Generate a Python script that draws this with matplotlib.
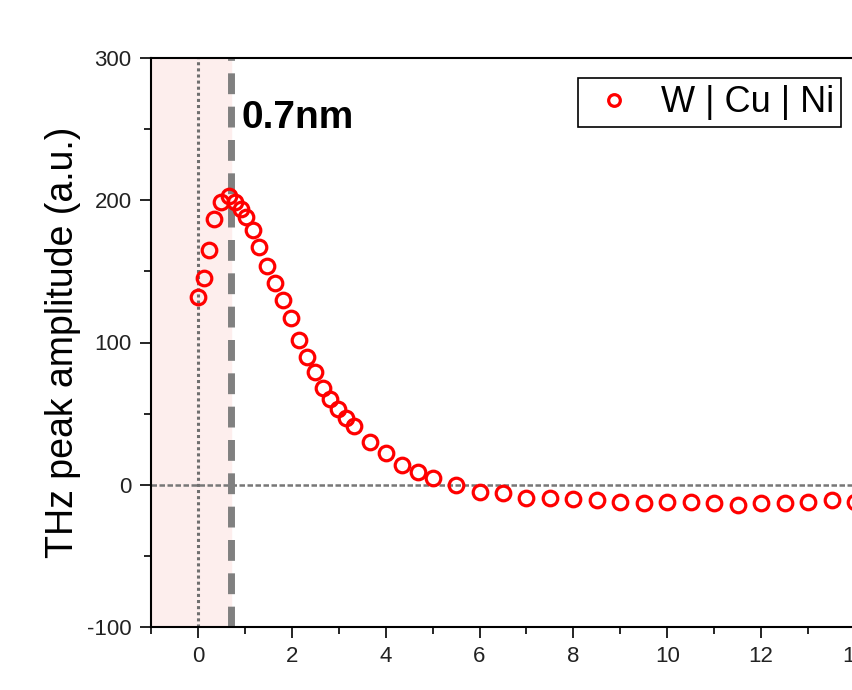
import matplotlib.pyplot as plt
import numpy as np

plt.rcParams['font.family'] = ['Liberation Sans', 'DejaVu Sans']
plt.rcParams['axes.unicode_minus'] = False

# Cu thickness (nm) and THz peak amplitude (a.u.)
thickness = np.array([0, 0.13, 0.23, 0.35, 0.49, 0.66, 0.8, 0.91, 1.02, 1.17, 1.3,
                      1.47, 1.64, 1.81, 1.98, 2.15, 2.32, 2.49, 2.66, 2.81, 2.98,
                      3.15, 3.32, 3.66, 4.0, 4.34, 4.68, 5.0, 5.5, 6.0, 6.5, 7.0,
                      7.5, 8.0, 8.5, 9.0, 9.5, 10.0, 10.5, 11.0, 11.5, 12.0, 12.5,
                      13.0, 13.5, 14.0])
amplitude = np.array([132, 145, 165, 187, 199, 203, 199, 194, 188, 179, 167,
                      154, 142, 130, 117, 102, 90, 79, 68, 60, 53,
                      47, 41, 30, 22, 14, 9, 5, 0, -5, -6, -9,
                      -9, -10, -11, -12, -13, -12, -12, -13, -14, -13, -13,
                      -12, -11, -12])
series_label = 'W | Cu | Ni'
peak_pos = 0.7

fig = plt.figure(figsize=(8.53, 6.90), dpi=100)
# axes runs past the right edge, like the cropped original
ax = fig.add_axes([151 / 853, 63 / 690, (902 - 151) / 853, (627 - 58) / 690])

ax.axvspan(-1, peak_pos, color='#fdeeed', zorder=0)
ax.axvline(0, color='#6f6f6f', lw=2.2, linestyle=(0, (1, 1)), zorder=1)
ax.axhline(0, color='#777777', lw=1.8, linestyle=(0, (2.2, 1)), zorder=1)
ax.axvline(peak_pos, color='#808080', lw=5, linestyle=(0, (3.0, 1.8)), zorder=1)

ax.plot(thickness, amplitude, 'o', ms=10.5, mfc='none', mec='red', mew=2.3,
        label=series_label, zorder=3)

ax.text(0.93, 258, '0.7nm', fontsize=28, fontweight='bold', va='center', ha='left')

ax.set_xlim(-1, 15)
ax.set_ylim(-100, 300)
ax.set_xticks(np.arange(0, 16, 2))
ax.set_xticks(np.arange(-1, 16, 1), minor=True)
ax.set_yticks(np.arange(-100, 301, 100))
ax.set_yticks(np.arange(-50, 300, 100), minor=True)
ax.tick_params(which='major', direction='out', length=8, width=1.2, labelsize=16,
               labelcolor='#222222', pad=6)
ax.tick_params(which='minor', direction='out', length=5, width=1.2)
for s in ax.spines.values():
    s.set_linewidth(1.5)

ax.set_ylabel('THz peak amplitude (a.u.)', fontsize=27, labelpad=4)
# x label sits mostly below the bottom edge, as in the cropped reference
fig.text(505 / 853, 2 / 690, r'$d_{\rm Cu}$ (nm)', fontsize=27, ha='center', va='top')

leg = ax.legend(loc='upper left', bbox_to_anchor=(578 / 853, 1 - 78 / 690),
                bbox_transform=fig.transFigure, fontsize=26, fancybox=False,
                edgecolor='black', framealpha=1, borderpad=0.2, borderaxespad=0,
                handletextpad=0.5, handlelength=1.6, markerscale=0.8)
leg.get_frame().set_linewidth(1.2)

fig.savefig('out.png', dpi=100)
